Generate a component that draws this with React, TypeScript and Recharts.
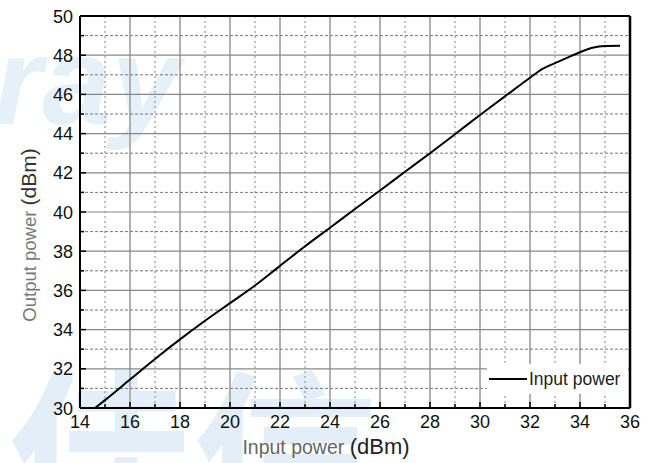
import { LineChart, Line, XAxis, YAxis, ReferenceLine, Legend } from 'recharts';

const inputPower = [14.6, 15, 16, 17, 18, 19, 20, 21, 22, 23, 24, 25, 26, 27, 28, 29, 30, 31, 32, 32.5, 33, 33.5, 34, 34.5, 35, 35.6];
const outputPower = [30.0, 30.4, 31.45, 32.5, 33.5, 34.45, 35.35, 36.25, 37.25, 38.25, 39.2, 40.15, 41.1, 42.05, 43.0, 43.97, 44.95, 45.9, 46.85, 47.3, 47.6, 47.88, 48.15, 48.38, 48.47, 48.48];

const xTicks = [14, 15, 16, 17, 18, 19, 20, 21, 22, 23, 24, 25, 26, 27, 28, 29, 30, 31, 32, 33, 34, 35, 36];
const yTicks = [30, 31, 32, 33, 34, 35, 36, 37, 38, 39, 40, 41, 42, 43, 44, 45, 46, 47, 48, 49, 50];
const majorX = [16, 18, 20, 22, 24, 26, 28, 30, 32, 34];
const minorX = [15, 17, 19, 21, 23, 25, 27, 29, 31, 33, 35];
const majorY = [32, 34, 36, 38, 40, 42, 44, 46, 48];
const minorY = [31, 33, 35, 37, 39, 41, 43, 45, 47, 49];

const SERIES_NAME = 'Input power';
const FONT = '"Liberation Sans", Arial, sans-serif';

const data = inputPower.map((x, i) => ({ input: x, output: outputPower[i] }));

const XTick = (props: any) => {
  const { x, y, payload } = props;
  const v = payload.value;
  const major = v % 2 === 0;
  return (
    <g>
      <line x1={x} x2={x} y1={y} y2={y - (major ? 6 : 4)} stroke="#000" strokeWidth={1.5} />
      {major && (
        <text x={x} y={y + 20} textAnchor="middle" fontSize={18} fill="#111" fontFamily={FONT}>
          {v}
        </text>
      )}
    </g>
  );
};

const YTick = (props: any) => {
  const { x, y, payload } = props;
  const v = payload.value;
  const major = v % 2 === 0;
  return (
    <g>
      <line x1={x} x2={x + (major ? 6 : 4)} y1={y} y2={y} stroke="#000" strokeWidth={1.5} />
      {major && (
        <text x={x - 7} y={y + 6.5} textAnchor="end" fontSize={18} fill="#111" fontFamily={FONT}>
          {v}
        </text>
      )}
    </g>
  );
};

// title sits a bit left of the plot centre in the original
const XTitle = (props: any) => {
  const { viewBox } = props;
  const cx = viewBox.x + viewBox.width / 2 - 29;
  return (
    <text x={cx} y={viewBox.y + 46} textAnchor="middle" fontFamily={FONT}>
      <tspan fontSize={19.5} fill="#666">{'Input power '}</tspan>
      <tspan fontSize={22} fill="#222">(dBm)</tspan>
    </text>
  );
};

const YTitle = (props: any) => {
  const { viewBox } = props;
  const cy = viewBox.y + viewBox.height / 2 + 23;
  return (
    <text x={36} y={cy} transform={`rotate(-90 36 ${cy})`} textAnchor="middle" fontFamily={FONT}>
      <tspan fontSize={18.5} fill="#777">{'Output power '}</tspan>
      <tspan fontSize={21} fill="#333">(dBm)</tspan>
    </text>
  );
};

const LegendBox = () => (
  <div
    style={{
      display: 'flex',
      alignItems: 'center',
      height: '100%',
      background: '#fff',
      fontFamily: FONT,
      fontSize: 17.5,
      color: '#222',
    }}
  >
    <div style={{ width: 38, height: 0, borderTop: '2px solid #000', marginLeft: 2, marginRight: 2 }} />
    <span>{SERIES_NAME}</span>
  </div>
);

const Watermark = () => (
  <svg width={656} height={463} style={{ position: 'absolute', left: 0, top: 0 }}>
    <text x={-6} y={124} fontSize={124} fontWeight="bold" fontStyle="italic" fill="#e6f0f9" fontFamily={FONT}>
      ray
    </text>
    <text x={8} y={528} fontSize={185} fontWeight="bold" fill="#e3eef8" fontFamily='"Noto Sans CJK SC", sans-serif'>
      佳信
    </text>
  </svg>
);

export default function App() {
  return (
    <div style={{ position: 'absolute', left: 0, top: 0, width: 656, height: 463, background: '#fff' }}>
      <Watermark />
      <div style={{ position: 'absolute', left: 0, top: 0 }}>
        <LineChart width={656} height={463} data={data} margin={{ top: 16, right: 26, left: 0, bottom: 0 }}>
          {minorX.map((v) => (
            <ReferenceLine key={`mx-${v}`} x={v} stroke="#999" strokeWidth={1.2} strokeDasharray="2 3" />
          ))}
          {majorX.map((v) => (
            <ReferenceLine key={`Mx-${v}`} x={v} stroke="#b0b0b0" strokeWidth={2} />
          ))}
          {minorY.map((v) => (
            <ReferenceLine key={`my-${v}`} y={v} stroke="#777" strokeWidth={1} strokeDasharray="3 2" />
          ))}
          {majorY.map((v) => (
            <ReferenceLine key={`My-${v}`} y={v} stroke="#888" strokeWidth={1.2} />
          ))}
          <ReferenceLine x={36} stroke="#000" strokeWidth={2.5} />
          <ReferenceLine y={50} stroke="#000" strokeWidth={2} />
          <XAxis
            dataKey="input"
            type="number"
            domain={[14, 36]}
            ticks={xTicks}
            interval={0}
            height={55}
            tickSize={0}
            tickMargin={0}
            tickLine={false}
            tick={<XTick />}
            axisLine={{ stroke: '#000', strokeWidth: 2 }}
            allowDataOverflow
            label={<XTitle />}
          />
          <YAxis
            type="number"
            domain={[30, 50]}
            ticks={yTicks}
            interval={0}
            width={80}
            tickSize={0}
            tickMargin={0}
            tickLine={false}
            tick={<YTick />}
            axisLine={{ stroke: '#000', strokeWidth: 2 }}
            allowDataOverflow
            label={<YTitle />}
          />
          <Legend
            layout="horizontal"
            verticalAlign="middle"
            align="center"
            content={<LegendBox />}
            wrapperStyle={{ left: 487, top: 364, width: 141, height: 30 }}
          />
          <Line
            name={SERIES_NAME}
            type="monotone"
            dataKey="output"
            stroke="#000"
            strokeWidth={2}
            dot={false}
            isAnimationActive={false}
          />
        </LineChart>
      </div>
    </div>
  );
}
